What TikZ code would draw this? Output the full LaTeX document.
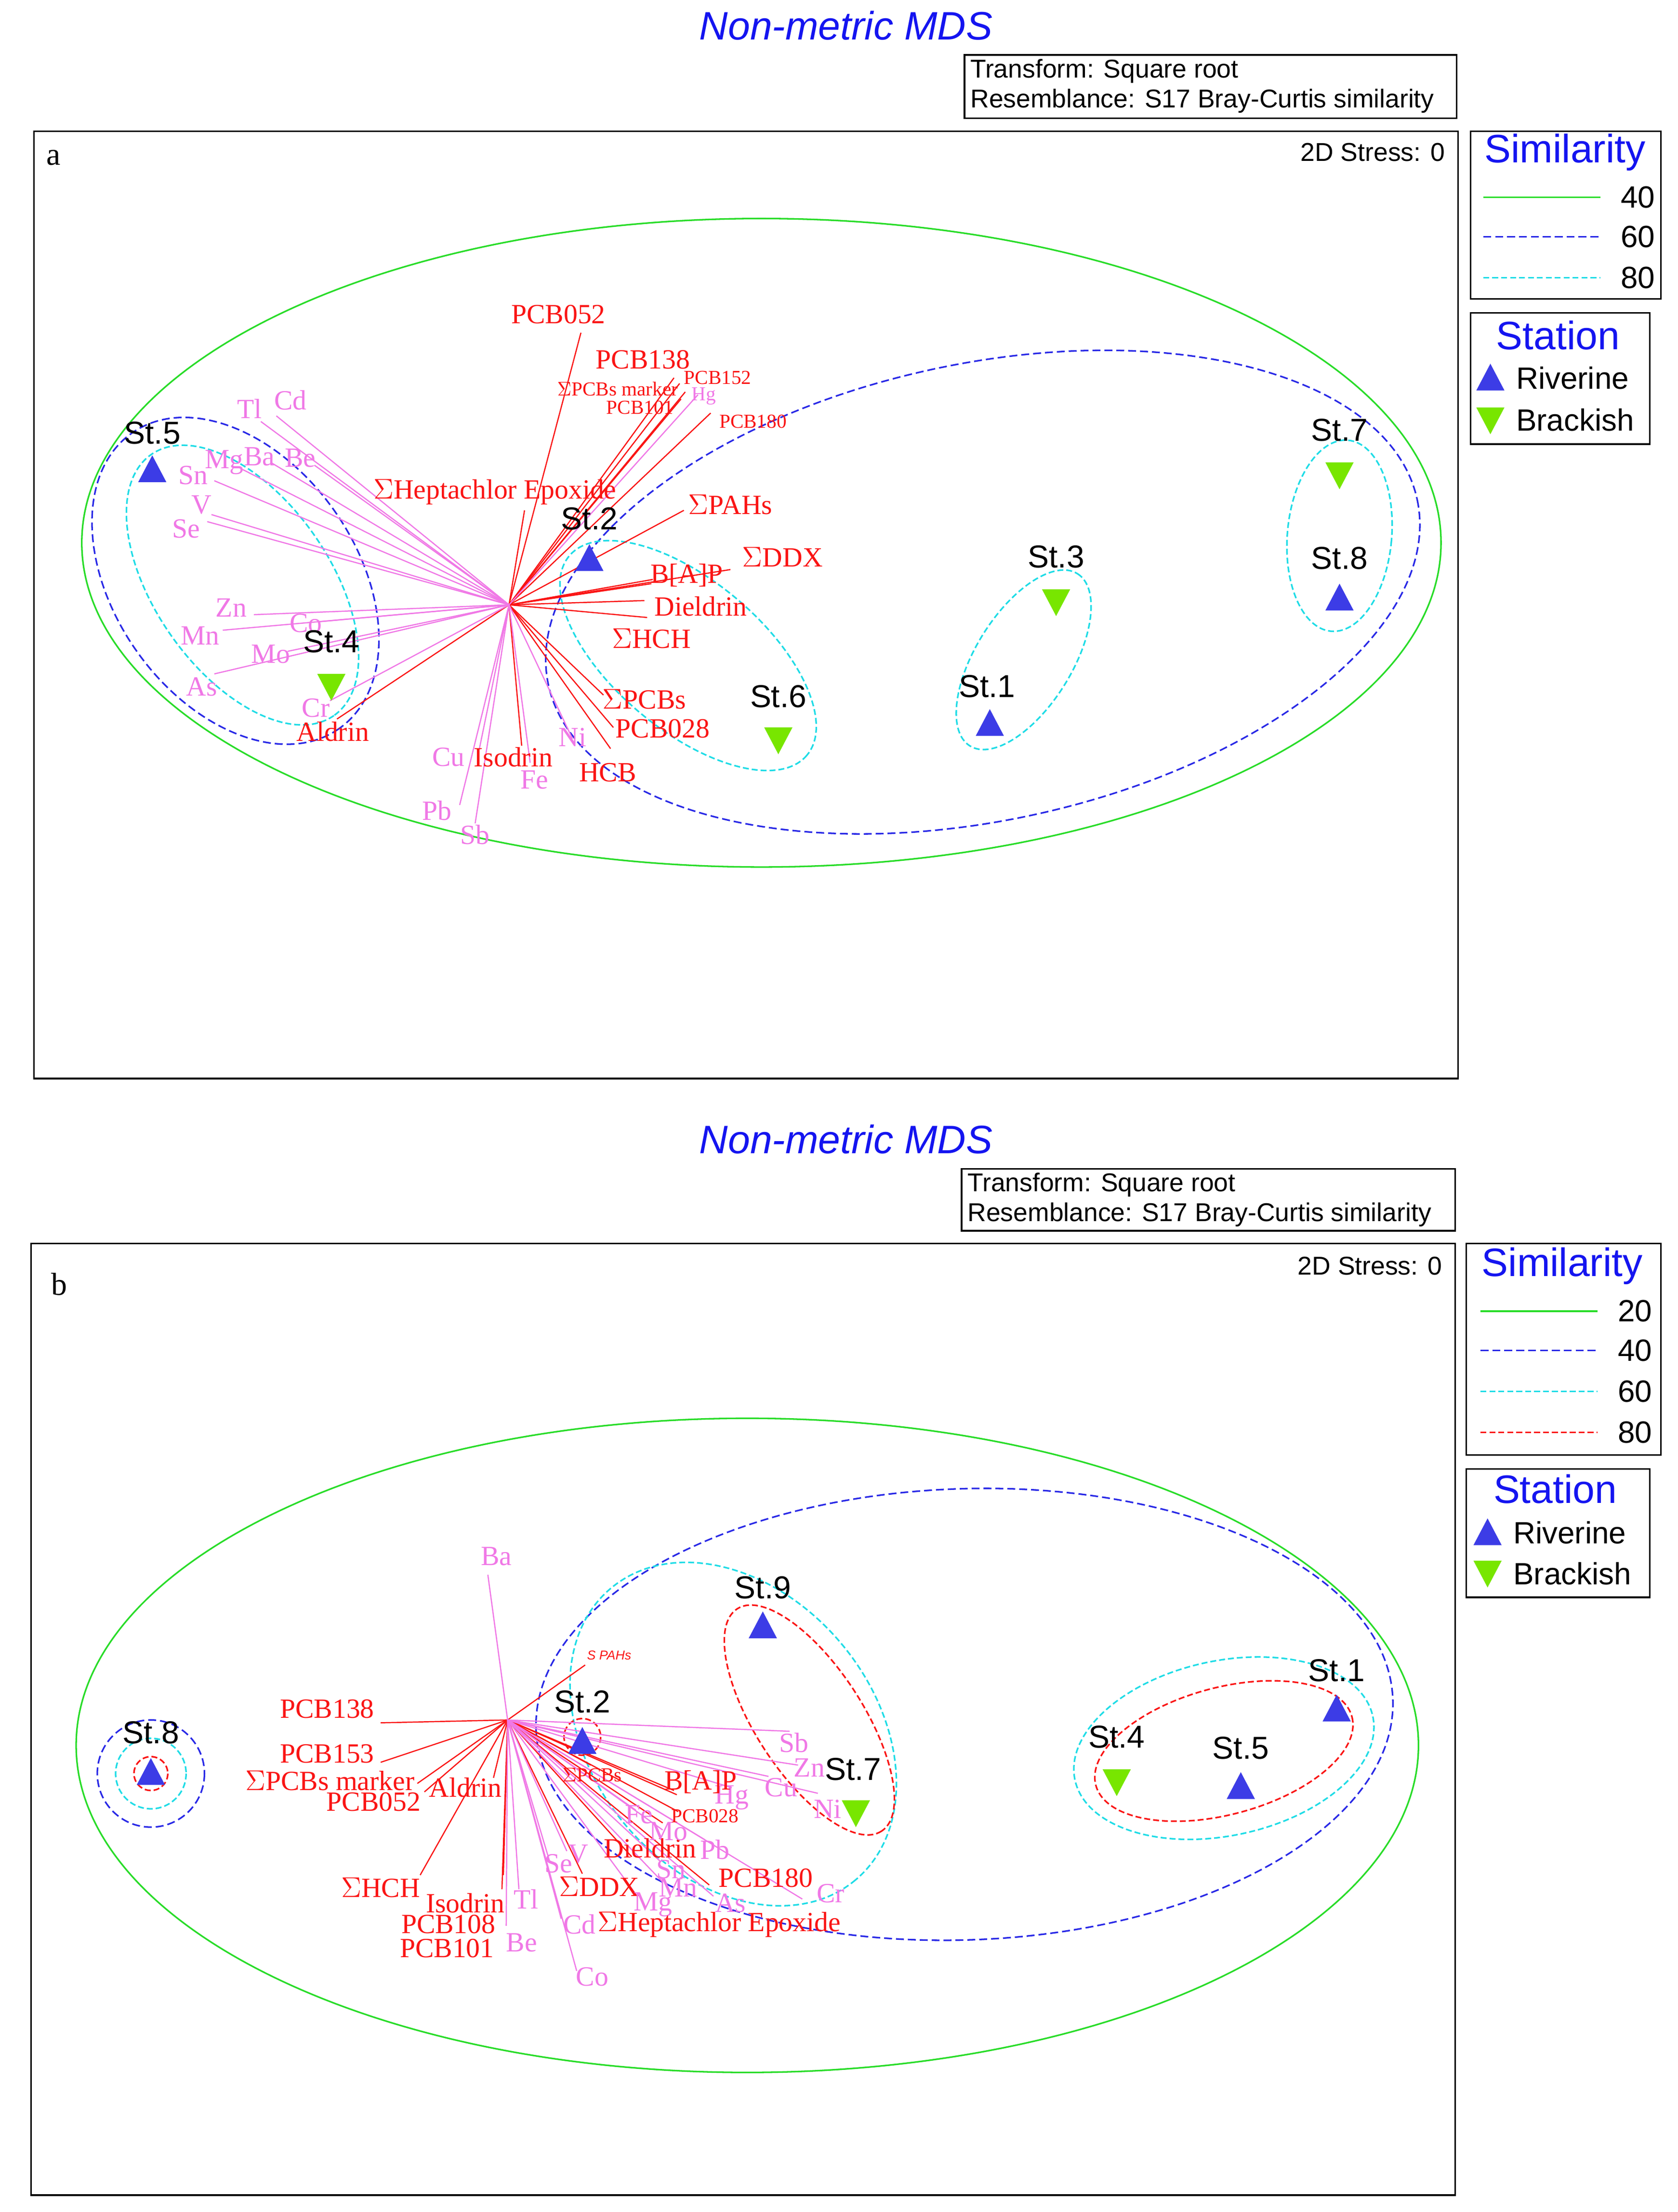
\documentclass[tikz,border=0pt]{standalone}
\usepackage{fontspec}
\setmainfont{Liberation Serif}
\newfontfamily\sans{Liberation Sans}
\begin{document}
\definecolor{rd}{RGB}{250,20,20}
\definecolor{pk}{RGB}{240,120,230}
\definecolor{bl}{RGB}{40,40,230}
\definecolor{gr}{RGB}{40,220,40}
\definecolor{cy}{RGB}{30,220,230}
\definecolor{triB}{RGB}{60,60,230}
\definecolor{triG}{RGB}{120,230,0}
\definecolor{ttl}{RGB}{20,20,240}
\begin{tikzpicture}[x=0.025cm,y=-0.025cm,
 frame/.style={draw=black,line width=0.8pt},
 gE/.style={draw=gr,line width=0.8pt},
 bE/.style={draw=bl,line width=0.8pt,dash pattern=on 4pt off 2pt},
 cE/.style={draw=cy,line width=0.8pt,dash pattern=on 3pt off 1.5pt},
 rE/.style={draw=rd,line width=0.8pt,dash pattern=on 3pt off 1.5pt},
 rl/.style={draw=rd,line width=0.6pt},
 pl/.style={draw=pk,line width=0.6pt},
 rt/.style={text=rd,font=\fontsize{14}{14}\selectfont,inner sep=0pt},
 rs/.style={text=rd,font=\fontsize{10}{10}\selectfont,inner sep=0pt},
 pt/.style={text=pk,font=\fontsize{14}{14}\selectfont,inner sep=0pt},
 ps/.style={text=pk,font=\fontsize{10}{10}\selectfont,inner sep=0pt},
 st/.style={font=\sans\fontsize{16}{16}\selectfont,inner sep=0pt},
 title/.style={font=\sans\itshape\fontsize{20}{20}\selectfont,text=ttl},
 info/.style={font=\sans\fontsize{13}{15}\selectfont,align=left,inner sep=0pt},
 lgT/.style={font=\sans\fontsize{20}{20}\selectfont,text=ttl},
 lg/.style={font=\sans\fontsize{15.5}{15.5}\selectfont,inner sep=0pt},
]
\newcommand\mytup[2]{\fill[triB] (#1-10,#2+9)--(#1+10,#2+9)--(#1,#2-10)--cycle;}
\newcommand\mytdn[2]{\fill[triG] (#1-10,#2-9)--(#1+10,#2-9)--(#1,#2+10)--cycle;}
\useasboundingbox[fill=white] (0,0) rectangle (1190,1569);

% ================= PANEL A =================
\node[title] (ta) at (600,18) {Non-metric MDS};
\draw[frame] (684,39) rectangle (1033,84);
\node[info,anchor=west] (ia) at (688,61) {Transform: Square root\\Resemblance: S17 Bray-Curtis similarity};
\draw[frame] (24,93) rectangle (1034,765);
\node[font=\fontsize{16}{16}\selectfont] (la) at (38,112) {a};
\node[info,anchor=east] (sa) at (1025,108) {2D Stress: 0};
% legend
\draw[frame] (1043,93) rectangle (1178,212);
\node[lgT] (lsa) at (1110,108) {Similarity};
\draw[gr,line width=0.8pt] (1052,140) -- (1135,140); \node[lg,anchor=east] at (1174,140) {40};
\draw[bE] (1052,168) -- (1135,168); \node[lg,anchor=east] at (1174,168) {60};
\draw[cE] (1052,197) -- (1135,197); \node[lg,anchor=east] at (1174,197) {80};
\draw[frame] (1043,222) rectangle (1170,315);
\node[lgT] (lta) at (1105,238) {Station};
\mytup{1057}{268} \node[lg,anchor=west] at (1075,268) {Riverine};
\mytdn{1057}{298} \node[lg,anchor=west] at (1075,298) {Brackish};
% ellipses
\draw[gE] (540,385) ellipse [x radius=482,y radius=230];
\draw[bE,rotate around={12:(697,420)}] (697,420) ellipse [x radius=315,y radius=162];
\draw[bE,rotate around={-55:(167,412)}] (167,412) ellipse [x radius=128,y radius=86];
\draw[cE,rotate around={-55:(172,415)}] (172,415) ellipse [x radius=113,y radius=62];
\draw[cE,rotate around={-40:(488,465)}] (488,465) ellipse [x radius=110,y radius=53];
\draw[cE,rotate around={58:(726,468)}] (726,468) ellipse [x radius=72,y radius=34];
\draw[cE,rotate around={-5:(950,380)}] (950,380) ellipse [x radius=37,y radius=68];
% vectors
\coordinate (oa) at (361,429);
\foreach \a/\b in {412/236,478/268,482/272,486/278,483/283,504/293,372/362,485/362,518/404,462/414,463/411,457/426,459/438,428/493,435/516,433/531,370/529,239/510}
  \draw[rl] (oa) -- (\a,\b);
\foreach \a/\b in {495/280,406/524,376/541,340/531,326/571,337/584,234/497,152/478,204/462,158/447,226/441,180/436,147/370,150/365,152/341,172/333,192/328,223/330,185/299,196/295}
  \draw[pl] (oa) -- (\a,\b);
\node[rt] at (396,223) {PCB052};
\node[rt] at (456,255) {PCB138};
\node[rs] at (438,276) {$\Sigma$PCBs marker};
\node[rs] at (509,268) {PCB152};
\node[ps] at (499,281) {Hg};
\node[rs] at (454,289) {PCB101};
\node[rs] at (534,299) {PCB180};
\node[rt] at (351,349) {$\Sigma$Heptachlor Epoxide};
\node[rt] at (518,358) {$\Sigma$PAHs};
\node[rt] at (555,395) {$\Sigma$DDX};
\node[rt] at (487,408) {B[A]P};
\node[rt] at (497,430) {Dieldrin};
\node[rt] at (462,453) {$\Sigma$HCH};
\node[rt] at (457,496) {$\Sigma$PCBs};
\node[rt] at (470,517) {PCB028};
\node[rt] at (431,548) {HCB};
\node[rt] at (364,537) {Isodrin};
\node[rt] at (236,519) {Aldrin};
\node[pt] at (379,553) {Fe};
\node[pt] at (406,523) {Ni};
\node[pt] at (318,537) {Cu};
\node[pt] at (310,575) {Pb};
\node[pt] at (337,592) {Sb};
\node[pt] at (224,502) {Cr};
\node[pt] at (143,487) {As};
\node[pt] at (192,464) {Mo};
\node[pt] at (142,451) {Mn};
\node[pt] at (217,442) {Co};
\node[pt] at (164,431) {Zn};
\node[pt] at (132,375) {Se};
\node[pt] at (143,358) {V};
\node[pt] at (137,337) {Sn};
\node[pt] at (159,328) {Mg};
\node[pt] at (184,324) {Ba};
\node[pt] at (213,325) {Be};
\node[pt] at (177,290) {Tl};
\node[pt] at (206,284) {Cd};
% stations
\mytup{108}{333} \node[st] (a5) at (108,307) {St.5};
\mytup{418}{396} \node[st] (a2) at (418,368) {St.2};
\mytdn{235}{487} \node[st] (a4) at (235,455) {St.4};
\mytdn{552}{525} \node[st] (a6) at (552,494) {St.6};
\mytup{702}{513} \node[st] (a1) at (700,487) {St.1};
\mytdn{749}{427} \node[st] (a3) at (749,395) {St.3};
\mytdn{950}{337} \node[st] (a7) at (950,305) {St.7};
\mytup{950}{424} \node[st] (a8) at (950,396) {St.8};

% ================= PANEL B =================
\node[title] (tb) at (600,808) {Non-metric MDS};
\draw[frame] (682,829) rectangle (1032,873);
\node[info,anchor=west] (ib) at (686,851) {Transform: Square root\\Resemblance: S17 Bray-Curtis similarity};
\draw[frame] (22,882) rectangle (1032,1557);
\node[font=\fontsize{16}{16}\selectfont] (lb) at (42,911) {b};
\node[info,anchor=east] (sb) at (1023,898) {2D Stress: 0};
\draw[frame] (1040,882) rectangle (1178,1032);
\node[lgT] (lsb) at (1108,898) {Similarity};
\draw[gr,line width=0.8pt] (1050,930) -- (1133,930); \node[lg,anchor=east] at (1172,930) {20};
\draw[bE] (1050,958) -- (1133,958); \node[lg,anchor=east] at (1172,958) {40};
\draw[cE] (1050,987) -- (1133,987); \node[lg,anchor=east] at (1172,987) {60};
\draw[rE] (1050,1016) -- (1133,1016); \node[lg,anchor=east] at (1172,1016) {80};
\draw[frame] (1040,1042) rectangle (1170,1133);
\node[lgT] (ltb) at (1103,1056) {Station};
\mytup{1055}{1087} \node[lg,anchor=west] at (1073,1087) {Riverine};
\mytdn{1055}{1116} \node[lg,anchor=west] at (1073,1116) {Brackish};
% ellipses
\draw[gE] (530,1238) ellipse [x radius=476,y radius=232];
\draw[bE,rotate around={2:(684,1216)}] (684,1216) ellipse [x radius=304,y radius=160];
\draw[cE,rotate around={-50:(520,1230)}] (520,1230) ellipse [x radius=135,y radius=100];
\draw[rE,rotate around={-57:(574,1220)}] (574,1220) ellipse [x radius=94,y radius=38];
\draw[rE] (413,1232) circle [radius=13];
\draw[cE,rotate around={12:(868,1240)}] (868,1240) ellipse [x radius=108,y radius=62];
\draw[rE,rotate around={15:(868,1242)}] (868,1242) ellipse [x radius=94,y radius=45];
\draw[rE] (107,1258) circle [radius=12];
\draw[cE] (107,1258) circle [radius=25];
\draw[bE] (107,1258) circle [radius=38];
% vectors
\coordinate (ob) at (360,1220);
\foreach \a/\b in {415/1181,270/1222,270/1250,296/1265,301/1271,350/1261,298/1330,356/1340,357/1330,413/1329,448/1317,470/1293,481/1285,503/1337,478/1270,480/1273,419/1252}
  \draw[rl] (ob) -- (\a,\b);
\foreach \a/\b in {346/1117,368/1340,359/1366,409/1398,398/1361,390/1321,402/1313,452/1345,470/1335,468/1320,506/1345,500/1305,470/1298,451/1284,519/1268,569/1347,560/1228,566/1252,545/1260,580/1272}
  \draw[pl] (ob) -- (\a,\b);
\node[pt] at (352,1104) {Ba};
\node[text=rd,font=\sans\itshape\fontsize{6.5}{6.5}\selectfont,inner sep=0pt] at (432,1174) {S PAHs};
\node[rt] at (232,1212) {PCB138};
\node[rt] at (232,1244) {PCB153};
\node[rt] at (234,1263) {$\Sigma$PCBs marker};
\node[rt] at (265,1278) {PCB052};
\node[rt] at (330,1268) {Aldrin};
\node[rt] at (270,1339) {$\Sigma$HCH};
\node[rt] at (330,1350) {Isodrin};
\node[rt] at (318,1365) {PCB108};
\node[rt] at (317,1382) {PCB101};
\node[pt] at (373,1347) {Tl};
\node[pt] at (370,1378) {Be};
\node[pt] at (420,1402) {Co};
\node[pt] at (411,1365) {Cd};
\node[pt] at (396,1322) {Se};
\node[pt] at (410,1315) {V};
\node[rt] at (425,1338) {$\Sigma$DDX};
\node[pt] at (463,1351) {Mg};
\node[rt] at (510,1365) {$\Sigma$Heptachlor Epoxide};
\node[pt] at (481,1339) {Mn};
\node[pt] at (476,1326) {Sn};
\node[pt] at (518,1350) {As};
\node[pt] at (507,1312) {Pb};
\node[rt] at (461,1311) {Dieldrin};
\node[pt] at (474,1299) {Mo};
\node[pt] at (453,1287) {Fe};
\node[rt] at (543,1332) {PCB180};
\node[pt] at (589,1343) {Cr};
\node[rs] at (500,1288) {PCB028};
\node[pt] at (519,1275) {Hg};
\node[rt] at (497,1264) {B[A]P};
\node[rs] at (420,1259) {$\Sigma$PCBs};
\node[pt] at (563,1236) {Sb};
\node[pt] at (574,1254) {Zn};
\node[pt] at (554,1268) {Cu};
\node[pt] at (587,1283) {Ni};
% stations
\mytup{413}{1235} \node[st] (b2) at (413,1207) {St.2};
\mytup{541}{1153} \node[st] (b9) at (541,1126) {St.9};
\mytdn{607}{1286} \node[st] (b7) at (605,1255) {St.7};
\mytup{107}{1257} \node[st] (b8) at (107,1229) {St.8};
\mytup{948}{1212} \node[st] (b1) at (948,1185) {St.1};
\mytdn{792}{1264} \node[st] (b4) at (792,1232) {St.4};
\mytup{880}{1267} \node[st] (b5) at (880,1240) {St.5};
\end{tikzpicture}
\end{document}
